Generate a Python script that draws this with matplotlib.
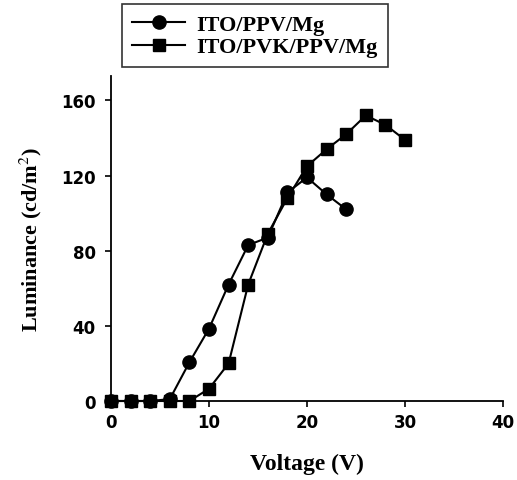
import matplotlib
matplotlib.use("Agg")
import matplotlib.pyplot as plt

plt.rcParams["mathtext.fontset"] = "stix"

# luminance vs voltage
v_ppv = [0, 2, 4, 6, 8, 10, 12, 14, 16, 18, 20, 22, 24]
lum_ppv = [0, 0, 0, 1, 20.6, 38.5, 62, 83, 87, 111, 119, 110, 102]

v_pvk = [0, 2, 4, 6, 8, 10, 12, 14, 16, 18, 20, 22, 24, 26, 28, 30]
lum_pvk = [0, 0, 0, 0, 0, 6.5, 20, 62, 89, 108, 125, 134, 142, 152, 147, 139]

labels = ["ITO/PPV/Mg", "ITO/PVK/PPV/Mg"]
xticks = [0, 10, 20, 30, 40]
yticks = [0, 40, 80, 120, 160]

fig = plt.figure(figsize=(5.17, 4.81), dpi=100)
ax = fig.add_axes([111 / 517, 1 - 402 / 481, 392 / 517, 325 / 481])

ax.plot(v_ppv, lum_ppv, "-o", color="black", lw=1.5, ms=9.5, clip_on=False, label=labels[0])
ax.plot(v_pvk, lum_pvk, "-s", color="black", lw=1.5, ms=8.5, clip_on=False, label=labels[1])

ax.set_xlim(0, 40)
ax.set_ylim(0, 173)
ax.set_xticks(xticks)
ax.set_yticks(yticks)
for s in ["top", "right"]:
    ax.spines[s].set_visible(False)
for s in ["left", "bottom"]:
    ax.spines[s].set_linewidth(1.3)
ax.tick_params(direction="out", length=4, width=1.2, labelsize=12)
ax.tick_params(axis="x", pad=5)
ax.tick_params(axis="y", pad=7)
for t in ax.get_xticklabels() + ax.get_yticklabels():
    t.set_fontfamily("DejaVu Sans")
    t.set_fontweight("bold")

ax.set_xlabel("Voltage (V)", fontsize=17, fontweight="bold", family="Liberation Serif", labelpad=15)
ax.set_ylabel("Luminance (cd/m$^2$)", fontsize=16, fontweight="bold", family="Liberation Serif", labelpad=12)

leg = fig.legend(loc="upper left", bbox_to_anchor=(122 / 517, 1 - 5 / 481),
                 prop={"family": "Liberation Serif", "weight": "bold", "size": 16},
                 frameon=True, fancybox=False, edgecolor="black", handlelength=2.4,
                 borderpad=0.45, labelspacing=0.1, handletextpad=0.5, borderaxespad=0)
leg.get_frame().set_linewidth(1.2)

fig.savefig("out.png", dpi=100)
